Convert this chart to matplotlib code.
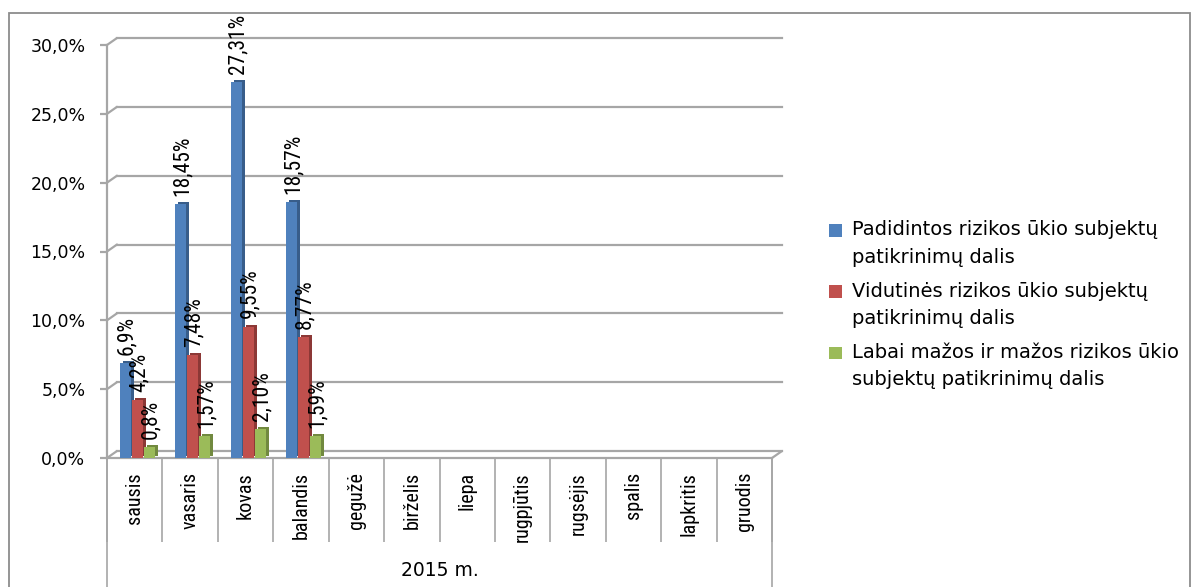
import numpy as np
import matplotlib
matplotlib.use("Agg")
import matplotlib.pyplot as plt
import matplotlib.transforms as mtransforms
from matplotlib.patches import Patch, Rectangle, ConnectionPatch
from matplotlib.legend_handler import HandlerPatch
from matplotlib.ticker import FuncFormatter

# duomenys (2015 m.)
months = ["sausis", "vasaris", "kovas", "balandis", "gegužė", "birželis",
          "liepa", "rugpjūtis", "rugsėjis", "spalis", "lapkritis", "gruodis"]
padidintos = [6.9, 18.45, 27.31, 18.57]
vidutines = [4.2, 7.48, 9.55, 8.77]
mazos = [0.8, 1.57, 2.10, 1.59]
lbl_padidintos = ["6,9%", "18,45%", "27,31%", "18,57%"]
lbl_vidutines = ["4,2%", "7,48%", "9,55%", "8,77%"]
lbl_mazos = ["0,8%", "1,57%", "2,10%", "1,59%"]
series_names = ["Padidintos rizikos ūkio subjektų\npatikrinimų dalis",
                "Vidutinės rizikos ūkio subjektų\npatikrinimų dalis",
                "Labai mažos ir mažos rizikos ūkio\nsubjektų patikrinimų dalis"]
yticks = [0, 5, 10, 15, 20, 25, 30]
group_label = "2015 m."

W, H = 1193, 587
fig = plt.figure(figsize=(W / 100, H / 100), dpi=100)
ax = fig.add_axes([107 / W, (H - 458) / H, (772 - 107) / W, (458 - 45) / H])
ax.set_xlim(-0.5, len(months) - 0.5)
ax.set_ylim(0, 30)

grid_col = "#a6a6a6"
narrow = ["Roboto Condensed", "Roboto"]

# galinė sienelė (3D imitacija) - tinklelio linijos paslinktos
back = mtransforms.offset_copy(ax.transData, fig=fig, x=10, y=7, units="dots")
for yv in yticks:
    ax.plot([-0.5, len(months) - 0.5], [yv, yv], color=grid_col, lw=1.6,
            transform=back, clip_on=False, zorder=0.5)
    ax.add_artist(ConnectionPatch(xyA=(-0.5, yv), coordsA=ax.transData,
                                  xyB=(-0.5, yv), coordsB=back,
                                  color=grid_col, lw=1.6, zorder=0.5))
ax.add_artist(ConnectionPatch(xyA=(len(months) - 0.5, 0), coordsA=ax.transData,
                              xyB=(len(months) - 0.5, 0), coordsB=back,
                              color=grid_col, lw=1.6, zorder=0.5))

# stulpeliai
fronts = ["#4f81bd", "#c0504d", "#9bbb59"]
sides = ["#385d8a", "#8c3836", "#71893f"]
offsets = [-0.166, 0.05, 0.267]
width = 0.2
side_tr = mtransforms.offset_copy(ax.transData, fig=fig, x=3, y=2, units="dots")
all_vals = [padidintos, vidutines, mazos]
all_lbls = [lbl_padidintos, lbl_vidutines, lbl_mazos]
handles = []
for vals, lbls, fc, sc, off, name in zip(all_vals, all_lbls, fronts, sides, offsets, series_names):
    x = np.arange(len(vals)) + off
    ax.bar(x, vals, width=width, color=sc, transform=side_tr, zorder=2)
    ax.bar(x, vals, width=width, color=fc, zorder=3)
    for xi, v, t in zip(x, vals, lbls):
        ax.annotate(t, (xi, v), xytext=(1, 6), textcoords="offset points",
                    rotation=90, ha="center", va="bottom", fontsize=15.5,
                    family=narrow, zorder=5, annotation_clip=False)
    handles.append(Patch(facecolor=fc, edgecolor="none", label=name))

# ašys
for s in ["top", "right"]:
    ax.spines[s].set_visible(False)
ax.spines["left"].set_color(grid_col)
ax.spines["left"].set_linewidth(1.6)
ax.spines["bottom"].set_color(grid_col)
ax.spines["bottom"].set_linewidth(1.6)

ax.set_yticks(yticks)
ax.yaxis.set_major_formatter(FuncFormatter(lambda v, p: f"{v:.1f}".replace(".", ",") + "%"))
ax.tick_params(axis="y", length=5, width=1.6, color=grid_col, pad=10.5, labelsize=12.5)

ax.set_xticks(np.arange(len(months)))
ax.set_xticklabels(months, rotation=90, family=narrow, fontsize=14.5, va="top")
ax.tick_params(axis="x", which="major", length=0, pad=10)
ax.set_xticks(np.arange(len(months) + 1) - 0.5, minor=True)
ax.tick_params(axis="x", which="minor", length=60.5, width=1.2, color=grid_col, direction="out")

for xb in [-0.5, len(months) - 0.5]:
    ax.axvline(xb, ymin=-0.4, ymax=0, color=grid_col, lw=1.2, clip_on=False)

ax.text(0.5, -0.272, group_label, transform=ax.transAxes, ha="center", va="center",
        fontsize=13.5)

# rėmelis
fig.patches.append(Rectangle((9 / W, -0.1), (1190 - 9) / W, (H - 13) / H + 0.1,
                             transform=fig.transFigure, fill=False,
                             edgecolor="#8c8c8c", lw=1.3))


# legendos kvadratėlis prie pirmos eilutės
def top_square(legend, orig_handle, xdescent, ydescent, width, height, fontsize):
    return Rectangle((-xdescent, -ydescent + 10), width, height)


leg = fig.legend(handles=handles, loc="upper left", bbox_to_anchor=(812 / W, 1 - 203 / H),
                 frameon=False, fontsize=14, handlelength=0.62, handleheight=0.62,
                 handletextpad=0.55, labelspacing=0.75,
                 handler_map={Patch: HandlerPatch(patch_func=top_square)})
for t in leg.get_texts():
    t.set_linespacing(1.57)

fig.savefig("out.png", dpi=100)
